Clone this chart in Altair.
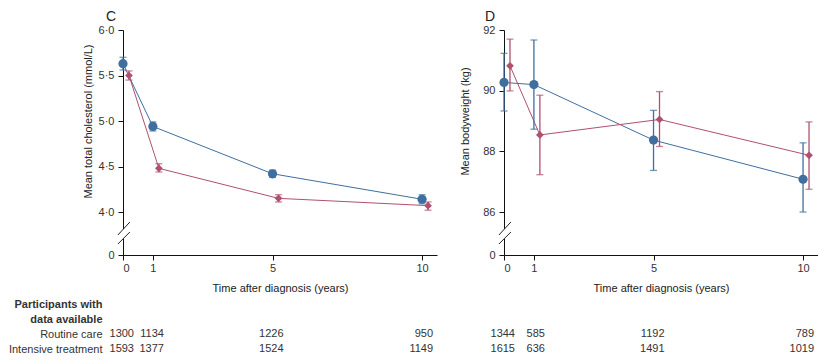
import altair as alt
import pandas as pd

# ---------------- data ----------------
years = [0, 1, 5, 10]
series_names = ["Routine care", "Intensive treatment"]
row_names = ["Participants with", "data available", "Routine care", "Intensive treatment"]

# Panel C: mean total cholesterol (mmol/L)
chol_rc = [5.63, 4.94, 4.42, 4.14]
chol_rc_lo = [5.56, 4.89, 4.38, 4.09]
chol_rc_hi = [5.70, 4.99, 4.46, 4.19]
chol_it = [5.50, 4.48, 4.15, 4.07]
chol_it_lo = [5.45, 4.44, 4.11, 4.02]
chol_it_hi = [5.55, 4.53, 4.19, 4.11]

# Panel D: mean bodyweight (kg)
wt_rc = [90.27, 90.20, 88.37, 87.08]
wt_rc_lo = [89.33, 88.73, 87.37, 85.89]
wt_rc_hi = [91.23, 91.67, 89.35, 88.28]
wt_it = [90.82, 88.54, 89.05, 87.87]
wt_it_lo = [89.99, 87.23, 88.16, 86.75]
wt_it_hi = [91.70, 89.85, 89.97, 88.97]

# Participants with data available
n_rc_c = [1300, 1134, 1226, 950]
n_it_c = [1593, 1377, 1524, 1149]
n_rc_d = [1344, 585, 1192, 789]
n_it_d = [1615, 636, 1491, 1019]

chol_ticks = [0, 4.0, 4.5, 5.0, 5.5, 6.0]
wt_ticks = [0, 86, 88, 90, 92]
x_ticks = [0, 1, 5, 10]

# ---------------- styling ----------------
FONT = "Liberation Sans, Arial"
FS = 11
W, H = 314, 225
BRK = 43  # pixels between 0 and first real tick
blue_mark, red_mark = "#135c9e", "#b4134b"
blue_line, red_line = "#3f6f9f", "#b0506f"
blue_err, red_err = "#0b4a78", "#c46a88"


def long_df(rc, rc_lo, rc_hi, it, it_lo, it_hi):
    rows = []
    for s, (m, lo, hi) in zip(series_names, [(rc, rc_lo, rc_hi), (it, it_lo, it_hi)]):
        for yr, a, b, c in zip(years, m, lo, hi):
            rows.append(dict(series=s, year=yr, mean=a, lo=b, hi=c))
    return pd.DataFrame(rows)


def table_df(rc, it):
    rows = []
    for s, ns in zip(series_names, [rc, it]):
        for yr, n in zip(years, ns):
            rows.append(dict(row=s, year=yr, n=n))
    return pd.DataFrame(rows)


def panel(df, tdf, letter, ytitle, low, high, yticks, label_expr, show_rows, title_pad, title_dx):
    xscale = alt.Scale(domain=[0, 10.5], nice=False, zero=False)
    yscale = alt.Scale(domain=[0, low, high], range=[H, H - BRK, 0], nice=False, zero=False)
    xaxis = alt.Axis(values=x_ticks, format="d", title="Time after diagnosis (years)",
                     tickSize=5, labelPadding=2, titlePadding=9, grid=False)
    yaxis = alt.Axis(values=yticks, labelExpr=label_expr, title=ytitle,
                     titleY=(H - BRK) / 2, titlePadding=title_pad, tickSize=5,
                     labelPadding=4, grid=False)
    col_line = alt.Scale(domain=series_names, range=[blue_line, red_line])
    col_err = alt.Scale(domain=series_names, range=[blue_err, red_err])
    col_mark = alt.Scale(domain=series_names, range=[blue_mark, red_mark])

    base = alt.Chart(df).transform_calculate(
        xp="datum.year + (datum.series == 'Intensive treatment' ? 0.2 : 0)"
    )
    X = alt.X("xp:Q", scale=xscale, axis=xaxis)

    lines = base.mark_line(strokeWidth=1).encode(
        x=X, y=alt.Y("mean:Q", scale=yscale, axis=yaxis),
        color=alt.Color("series:N", scale=col_line, legend=None),
    )
    errs = base.mark_errorbar(ticks=True, size=7, thickness=1.3).encode(
        x=X, y=alt.Y("lo:Q", scale=yscale, axis=yaxis), y2="hi:Q",
        color=alt.Color("series:N", scale=col_err, legend=None),
    )
    pts = base.mark_point(filled=True, opacity=1).encode(
        x=X, y=alt.Y("mean:Q", scale=yscale, axis=yaxis),
        color=alt.Color("series:N", scale=col_mark, legend=None),
        shape=alt.Shape("series:N", scale=alt.Scale(domain=series_names, range=["circle", "diamond"]), legend=None),
        size=alt.Size("series:N", scale=alt.Scale(domain=series_names, range=[85, 60]), legend=None),
    )

    # axis break decoration (in data units of the lower segment)
    frac = lambda px: low * (px / BRK)
    brk_df = pd.DataFrame({
        "x": [-0.17, -0.17], "x2": [0.23, 0.23],
        "y": [frac(20), frac(11)], "y2": [frac(33), frac(23)],
    })
    gap_df = pd.DataFrame({"x": [0], "y": [frac(16)], "y2": [frac(26)]})
    gap = alt.Chart(gap_df).mark_rule(color="white", strokeWidth=3).encode(
        x=alt.X("x:Q", scale=xscale, axis=xaxis),
        y=alt.Y("y:Q", scale=yscale, axis=yaxis), y2="y2:Q",
    )
    slashes = alt.Chart(brk_df).mark_rule(color="#222", strokeWidth=1).encode(
        x=alt.X("x:Q", scale=xscale, axis=xaxis), x2="x2:Q",
        y=alt.Y("y:Q", scale=yscale, axis=yaxis), y2="y2:Q",
    )

    if show_rows:
        row_axis = alt.Axis(
            orient="left", domain=False, ticks=False, grid=False, labelPadding=21,
            title=None, labelColor="#333", labelFontSize=FS,
            labelFontWeight={"condition": {"test": "indexof(['Participants with','data available'], datum.value) >= 0", "value": "bold"}, "value": "normal"},
        )
    else:
        row_axis = None
    table = alt.Chart(tdf).mark_text(align="right", dx=11, fontSize=FS, font=FONT, color="#333").encode(
        x=alt.X("year:Q", scale=xscale, axis=xaxis),
        y=alt.Y("row:N", scale=alt.Scale(type="point", domain=row_names, range=[H + 49, H + 94], padding=0), axis=row_axis),
        text="n:Q",
    )

    main = alt.layer(lines, errs, gap, slashes, pts)
    return alt.layer(main, table).resolve_scale(y="independent").properties(
        width=W, height=H,
        title=alt.TitleParams(letter, anchor="start", frame="group", dx=title_dx, fontSize=14,
                              fontWeight="normal", font=FONT, color="#222", offset=0),
    )


df_c = long_df(chol_rc, chol_rc_lo, chol_rc_hi, chol_it, chol_it_lo, chol_it_hi)
df_d = long_df(wt_rc, wt_rc_lo, wt_rc_hi, wt_it, wt_it_lo, wt_it_hi)

chol_expr = "datum.value == 0 ? '0' : replace(format(datum.value, '.1f'), '.', '·')"
wt_expr = "format(datum.value, 'd')"

pc = panel(df_c, table_df(n_rc_c, n_it_c), "C", "Mean total cholesterol (mmol/L)",
           4.0, 6.0, chol_ticks, chol_expr, True, 5, -17)
pd_ = panel(df_d, table_df(n_rc_d, n_it_d), "D", "Mean bodyweight (kg)",
            86, 92, wt_ticks, wt_expr, False, 12, -19)

chart = alt.hconcat(pc, pd_, spacing=22).properties(
    padding={"left": 0, "top": 2, "right": 0, "bottom": 0}
).configure_view(stroke=None).configure_axis(
    labelFont=FONT, titleFont=FONT, labelFontSize=FS, titleFontSize=FS,
    titleFontWeight="normal", labelColor="#333", titleColor="#222",
    domainColor="#111", tickColor="#111",
)

chart.save("out.html", embed_options={"renderer": "svg", "actions": False})
